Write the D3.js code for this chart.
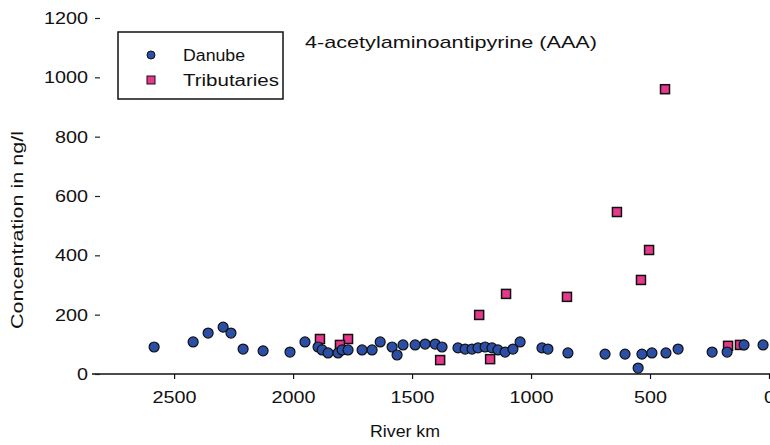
<!DOCTYPE html>
<html>
<head>
<meta charset="utf-8">
<script src="https://cdn.jsdelivr.net/npm/d3@7"></script>
<style>
  body { margin: 0; background: #fff; }
  text { font-family: "Liberation Sans", Arial, sans-serif; fill: #111; }
</style>
</head>
<body>
<div id="chart"></div>
<script>
// Chart size
const width = 770;
const height = 445;

// Danube samples: river km and concentration (ng/l)
const danubeKm = [2584, 2420, 2357, 2294, 2261, 2210, 2126, 2013, 1950, 1895, 1878, 1853,
  1811, 1794, 1769, 1710, 1668, 1634, 1584, 1563, 1538, 1487, 1445, 1403, 1374, 1307,
  1277, 1248, 1223, 1193, 1164, 1139, 1109, 1076, 1046, 954, 929, 845, 689, 605, 550,
  534, 492, 433, 382, 239, 176, 105, 25];
const danubeConc = [91, 108, 138, 158, 138, 84, 78, 74, 108, 91, 81, 71,
  71, 81, 81, 81, 81, 108, 91, 64, 98, 98, 101, 101, 91, 88,
  84, 84, 88, 91, 88, 81, 74, 84, 108, 88, 84, 71, 67, 67, 20,
  67, 71, 71, 84, 74, 74, 98, 98];

// Tributary samples
const tribKm = [1887, 1769, 1803, 1382, 1172, 1218, 1105, 849, 639, 504, 538, 437, 172, 122];
const tribConc = [118, 118, 98, 47, 50, 199, 270, 260, 546, 418, 317, 960, 95, 98];

const yTicks = [0, 200, 400, 600, 800, 1000, 1200];
const xTicks = [2500, 2000, 1500, 1000, 500, 0];

const danube = danubeKm.map((k, i) => ({ km: k, v: danubeConc[i] }));
const tribs = tribKm.map((k, i) => ({ km: k, v: tribConc[i] }));

const svg = d3.select("#chart").append("svg")
  .attr("width", width)
  .attr("height", height);

// Scales
const x = d3.scaleLinear().domain([2845, 0]).range([92, 769]);
const y = d3.scaleLinear().domain([0, 1200]).range([374, 18]);

// Stretch text to the wide look of the scanned figure
function stretch(sel, perChar) {
  sel.attr("textLength", function () { return this.textContent.length * perChar; })
    .attr("lengthAdjust", "spacingAndGlyphs");
}

// X axis
const xAxis = svg.append("g")
  .attr("transform", `translate(0,${y(0)})`)
  .call(d3.axisBottom(x).tickValues(xTicks).tickSize(5).tickPadding(12).tickFormat(d3.format("d")));
xAxis.select(".domain").attr("stroke", "#111").attr("stroke-width", 1.5).attr("d", `M92,0H${width}`);
xAxis.selectAll(".tick line").attr("stroke", "#111").attr("stroke-width", 1.2);
xAxis.selectAll(".tick text").style("font-size", "17px").attr("fill", "#111").call(stretch, 11);

// Y axis (no axis line, only short dashes)
const yAxis = svg.append("g")
  .attr("transform", "translate(101,0)")
  .call(d3.axisLeft(y).tickValues(yTicks).tickSize(5).tickPadding(8).tickFormat(d3.format("d")));
yAxis.select(".domain").remove();
yAxis.selectAll(".tick line").attr("stroke", "#222").attr("stroke-width", 1.2)
  .attr("x1", -1).attr("x2", -6);
yAxis.selectAll(".tick text").style("font-size", "17px").attr("fill", "#111")
  .attr("x", -13).call(stretch, 11);

// Axis titles
svg.append("text")
  .attr("x", 405).attr("y", 437)
  .attr("text-anchor", "middle")
  .style("font-size", "16px")
  .attr("textLength", 70).attr("lengthAdjust", "spacingAndGlyphs")
  .text("River km");

svg.append("text")
  .attr("transform", "translate(23,230) rotate(-90)")
  .attr("text-anchor", "middle")
  .style("font-size", "16px")
  .attr("textLength", 198).attr("lengthAdjust", "spacingAndGlyphs")
  .text("Concentration in ng/l");

// Chart title
svg.append("text")
  .attr("x", 305).attr("y", 48)
  .style("font-size", "17px")
  .attr("textLength", 292).attr("lengthAdjust", "spacingAndGlyphs")
  .text("4-acetylaminoantipyrine (AAA)");

// Tributaries squares
const sq = 9;
svg.append("g").selectAll("rect")
  .data(tribs)
  .enter().append("rect")
  .attr("x", d => x(d.km) - sq / 2)
  .attr("y", d => y(d.v) - sq / 2)
  .attr("width", sq).attr("height", sq)
  .attr("fill", "#e8388c")
  .attr("stroke", "#111").attr("stroke-width", 1.5);

// Danube circles
svg.append("g").selectAll("circle")
  .data(danube)
  .enter().append("circle")
  .attr("cx", d => x(d.km))
  .attr("cy", d => y(d.v))
  .attr("r", 5)
  .attr("fill", "#2b4ea6")
  .attr("stroke", "#111").attr("stroke-width", 1.2);

// Legend
const legend = svg.append("g").attr("transform", "translate(118,32)");
legend.append("rect")
  .attr("width", 165).attr("height", 67)
  .attr("fill", "#fff").attr("stroke", "#111").attr("stroke-width", 1.5);
legend.append("circle")
  .attr("cx", 33).attr("cy", 23).attr("r", 4)
  .attr("fill", "#2b4ea6").attr("stroke", "#111").attr("stroke-width", 1);
legend.append("rect")
  .attr("x", 29).attr("y", 44).attr("width", 8).attr("height", 8)
  .attr("fill", "#e8388c").attr("stroke", "#111").attr("stroke-width", 1);
legend.append("text").attr("x", 65).attr("y", 29).style("font-size", "16px")
  .attr("textLength", 62).attr("lengthAdjust", "spacingAndGlyphs").text("Danube");
legend.append("text").attr("x", 65).attr("y", 54).style("font-size", "16px")
  .attr("textLength", 96).attr("lengthAdjust", "spacingAndGlyphs").text("Tributaries");
</script>
</body>
</html>
